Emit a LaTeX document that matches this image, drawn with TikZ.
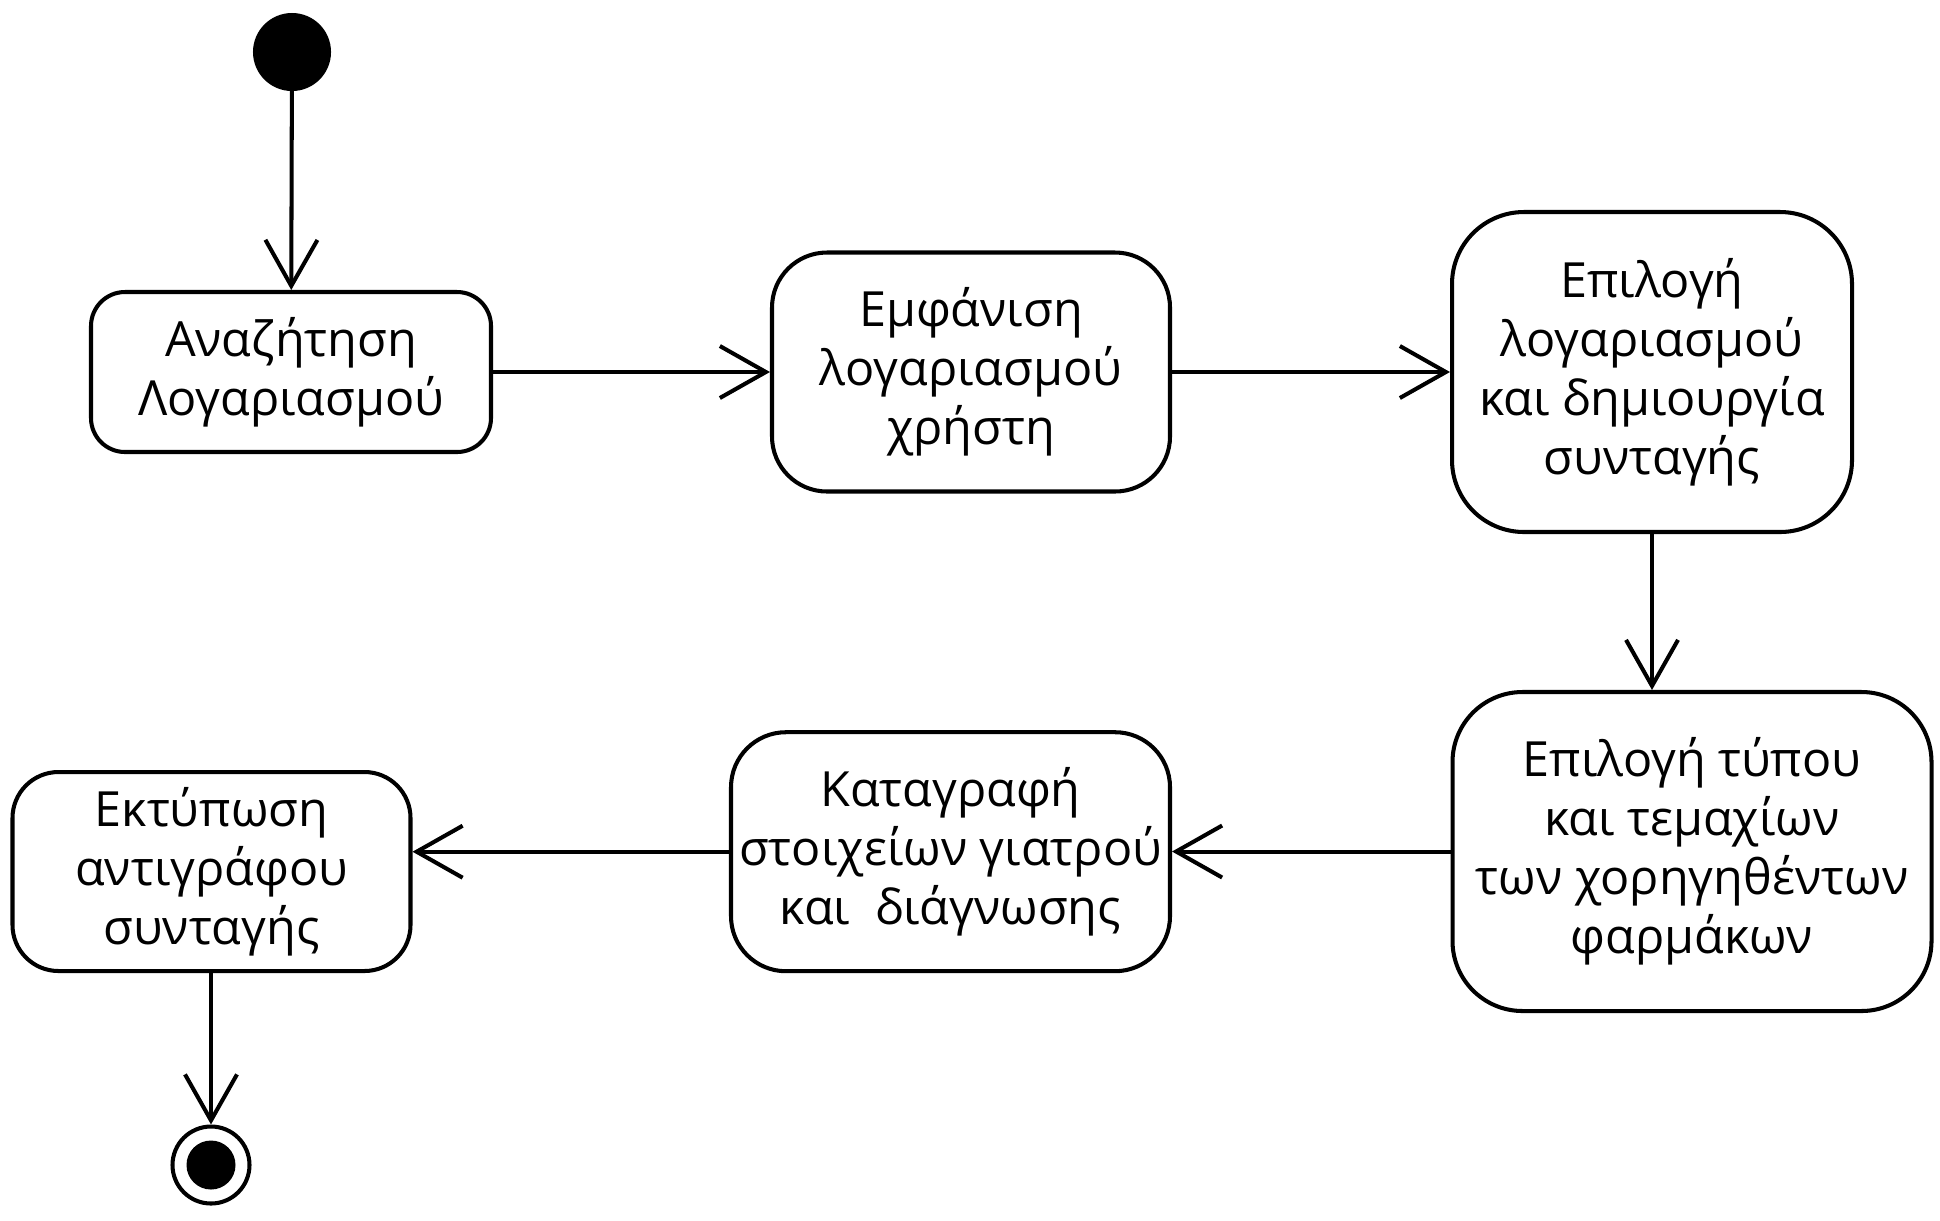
\documentclass[tikz,border=0pt]{standalone}
\usepackage{fontspec}
\setmainfont{Open Sans}
\usetikzlibrary{arrows.meta}
\begin{document}
\begin{tikzpicture}[line width=1.15pt]
% picture frame, 1px = 0.01cm

\tikzstyle{arrow} 	= [line width=1.15pt, color = black, -{Straight Barb[length=4.6mm, width=5.2mm, line width=1.15pt]}] % open arrow
\tikzstyle{act} 	= [draw, rectangle, align = center, inner sep = 0pt, font=\fontsize{13.8pt}{16.8pt}\selectfont] % activity box
\tikzstyle{startdot} = [draw, shape = circle, fill = black, inner sep = 0pt, minimum size = 7.4mm]

\useasboundingbox (0,0) rectangle (19.4,-12.2);

% initial state
\node(init)[startdot] at (2.92,-0.52){};

% first row of activities
\node(srch)[act, rounded corners=3.4mm, minimum width=4.0cm, minimum height=1.6cm] at (2.91,-3.72){Αναζήτηση\\Λογαριασμού};
\node(shw)[act, rounded corners=5.5mm, minimum width=3.98cm, minimum height=2.39cm, right of=srch, node distance=6.8cm]{Εμφάνιση\\λογαριασμού\\χρήστη};
\node(sel)[act, rounded corners=7.2mm, minimum width=4.0cm, minimum height=3.2cm, right of=shw, node distance=6.81cm]{Επιλογή\\λογαριασμού\\και δημιουργία\\συνταγής};

% second row of activities
\node(typ)[act, rounded corners=7mm, minimum width=4.79cm, minimum height=3.19cm, below of=sel, node distance=4.795cm, xshift=0.4cm]{Επιλογή τύπου\\και τεμαχίων\\των χορηγηθέντων\\φαρμάκων};
\node(rec)[act, rounded corners=5.5mm, minimum width=4.39cm, minimum height=2.39cm] at (9.505,-8.517){Καταγραφή\\στοιχείων γιατρού\\και\ \ διάγνωσης};
\node(prt)[act, rounded corners=4.6mm, minimum width=3.98cm, minimum height=1.99cm] at (2.115,-8.715){Εκτύπωση\\αντιγράφου\\συνταγής};

% final state
\node(fin)[draw, shape = circle, inner sep = 0pt, minimum size = 7.7mm] at (2.11,-11.65){};
\node(finin)[shape = circle, fill = black, inner sep = 0pt, minimum size = 4.9mm] at (fin){};

% arrows
\draw[arrow](init)--(srch);
\draw[arrow](srch.east)--(srch.east -| shw.west);
\draw[arrow](shw.east)--(shw.east -| sel.west);
\draw[arrow](sel.south)--(sel.south |- typ.north);
\draw[arrow](typ.west)--(typ.west -| rec.east);
\draw[arrow](rec.west)--(rec.west -| prt.east);
\draw[arrow](prt.south -| fin)--(fin.north);
\end{tikzpicture}
\end{document}
